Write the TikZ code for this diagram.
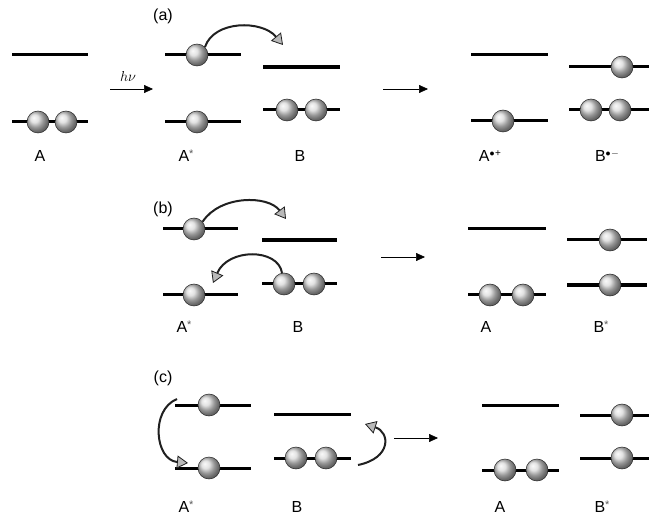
\documentclass[tikz,border=0pt]{standalone}
\usepackage{fontspec}
\setmainfont{Liberation Sans}
\usetikzlibrary{arrows.meta}
\newcommand{\sstar}{\raisebox{0.45ex}{\fontsize{11}{11}\selectfont\color{gray!70!black}*}}
\newcommand{\sdot}[1]{\raisebox{0.55ex}{\fontsize{10}{10}\selectfont$\bullet$\kern0.5pt#1}}
\begin{document}
\begin{tikzpicture}[x=1pt,y=-1pt,
  level/.style={line width=3pt,black},
  tlevel/.style={line width=3.8pt,black},
  el/.style={circle,inner sep=0pt,minimum size=22pt,ball color=gray!30,draw=gray!30!black,line width=0.5pt},
  lab/.style={font=\fontsize{16}{18}\selectfont,inner sep=0pt},
  rarrow/.style={-{Triangle[length=9pt,width=8pt]},line width=0.6pt},
  carrow/.style={-{Triangle[length=11pt,width=13pt,fill=gray!55,line width=0.8pt]},line width=2pt,draw=gray!25!black}]
\useasboundingbox (0,0) rectangle (649,516);
% ---------- (a)
\node[lab] (la) at (163,16) {(a)};
\coordinate (a1l) at (12,55); \coordinate (a1r) at (88,55);
\draw[level] (a1l) -- (a1r);
\coordinate (a2l) at (12,122); \coordinate (a2r) at (88,122);
\draw[level] (a2l) -- (a2r);
\node[el] (aA1) at (38,122) {}; \node[el] (aA2) at (66,122) {};
\node[lab] (aAl) at (40,156) {A};
\coordinate (hv1) at (110,89); \coordinate (hv2) at (153,89);
\draw[rarrow] (hv1) -- (hv2);
\node[lab,font=\fontsize{15}{16}\selectfont] (hv) at (128,77) {$h\nu$};
\coordinate (a3l) at (165,55); \coordinate (a3r) at (241,55);
\draw[level] (a3l) -- (a3r);
\coordinate (a4l) at (165,122); \coordinate (a4r) at (241,122);
\draw[level] (a4l) -- (a4r);
\node[el] (aS1) at (197,55) {}; \node[el] (aS2) at (197,122) {};
\node[lab] (aSl) at (186,156) {A\sstar};
\coordinate (a5l) at (263,67); \coordinate (a5r) at (340,67);
\draw[tlevel] (a5l) -- (a5r);
\coordinate (a6l) at (263,110); \coordinate (a6r) at (340,110);
\draw[level] (a6l) -- (a6r);
\node[el] (aB1) at (287,110) {}; \node[el] (aB2) at (316,110) {};
\node[lab] (aBl) at (300,156) {B};
\coordinate (aT) at (283,45);
\draw[carrow] (aS1.45) .. controls (214,20) and (262,20) .. (aT);
\coordinate (ar1) at (383,89); \coordinate (ar2) at (428,89);
\draw[rarrow] (ar1) -- (ar2);
\coordinate (a7l) at (471,55); \coordinate (a7r) at (548,55);
\draw[level] (a7l) -- (a7r);
\coordinate (a8l) at (471,121); \coordinate (a8r) at (548,121);
\draw[level] (a8l) -- (a8r);
\node[el] (aP1) at (503,121) {};
\node[lab] (aPl) at (490,156) {A\sdot{+}};
\coordinate (a9l) at (569,67); \coordinate (a9r) at (649,67);
\draw[level] (a9l) -- (a9r);
\coordinate (a10l) at (569,110); \coordinate (a10r) at (649,110);
\draw[level] (a10l) -- (a10r);
\node[el] (aM1) at (622,67) {};
\node[el] (aM2) at (591,110) {}; \node[el] (aM3) at (620,110) {};
\node[lab] (aMl) at (607,156) {B\sdot{$-$}};
% ---------- (b)
\node[lab] (lb) at (163,209) {(b)};
\coordinate (b1l) at (163,229); \coordinate (b1r) at (238,229);
\draw[level] (b1l) -- (b1r);
\coordinate (b2l) at (163,295); \coordinate (b2r) at (238,295);
\draw[level] (b2l) -- (b2r);
\node[el] (bS1) at (194,229) {}; \node[el] (bS2) at (194,295) {};
\node[lab] (bSl) at (184,327) {A\sstar};
\coordinate (b3l) at (262,240); \coordinate (b3r) at (337,240);
\draw[tlevel] (b3l) -- (b3r);
\coordinate (b4l) at (262,284); \coordinate (b4r) at (337,284);
\draw[level] (b4l) -- (b4r);
\node[el] (bB1) at (284,284) {}; \node[el] (bB2) at (314,284) {};
\node[lab] (bBl) at (298,327) {B};
\coordinate (bT1) at (286,219);
\draw[carrow] (bS1.40) .. controls (220,195) and (268,195) .. (bT1);
\coordinate (bT2) at (213,283);
\draw[carrow] (bB1.100) .. controls (278,248) and (228,248) .. (bT2);
\coordinate (br1) at (381,257); \coordinate (br2) at (425,257);
\draw[rarrow] (br1) -- (br2);
\coordinate (b5l) at (468,229); \coordinate (b5r) at (546,229);
\draw[level] (b5l) -- (b5r);
\coordinate (b6l) at (468,295); \coordinate (b6r) at (546,295);
\draw[level] (b6l) -- (b6r);
\node[el] (bA1) at (490,295) {}; \node[el] (bA2) at (523,295) {};
\node[lab] (bAl) at (486,327) {A};
\coordinate (b7l) at (567,240); \coordinate (b7r) at (647,240);
\draw[level] (b7l) -- (b7r);
\coordinate (b8l) at (567,285); \coordinate (b8r) at (647,285);
\draw[tlevel] (b8l) -- (b8r);
\node[el] (bQ1) at (610,240) {}; \node[el] (bQ2) at (610,285) {};
\node[lab] (bQl) at (601,327) {B\sstar};
% ---------- (c)
\node[lab] (lc) at (163,378) {(c)};
\coordinate (c1l) at (175,405); \coordinate (c1r) at (251,405);
\draw[level] (c1l) -- (c1r);
\coordinate (c2l) at (175,468); \coordinate (c2r) at (251,468);
\draw[level] (c2l) -- (c2r);
\node[el] (cS1) at (209,405) {}; \node[el] (cS2) at (209,468) {};
\node[lab] (cSl) at (186,507) {A\sstar};
\coordinate (cT1s) at (177,399); \coordinate (cT1) at (188,463);
\draw[carrow] (cT1s) .. controls (150,410) and (155,460) .. (cT1);
\coordinate (c3l) at (274,414); \coordinate (c3r) at (351,414);
\draw[level] (c3l) -- (c3r);
\coordinate (c4l) at (274,458); \coordinate (c4r) at (351,458);
\draw[level] (c4l) -- (c4r);
\node[el] (cB1) at (296,458) {}; \node[el] (cB2) at (326,458) {};
\node[lab] (cBl) at (297,507) {B};
\coordinate (cT2s) at (358,465); \coordinate (cT2) at (365,424);
\draw[carrow] (cT2s) .. controls (392,458) and (390,432) .. (cT2);
\coordinate (cr1) at (394,438); \coordinate (cr2) at (438,438);
\draw[rarrow] (cr1) -- (cr2);
\coordinate (c5l) at (482,405); \coordinate (c5r) at (559,405);
\draw[level] (c5l) -- (c5r);
\coordinate (c6l) at (482,470); \coordinate (c6r) at (559,470);
\draw[level] (c6l) -- (c6r);
\node[el] (cA1) at (505,470) {}; \node[el] (cA2) at (537,470) {};
\node[lab] (cAl) at (500,507) {A};
\coordinate (c7l) at (580,415); \coordinate (c7r) at (649,415);
\draw[level] (c7l) -- (c7r);
\coordinate (c8l) at (580,458); \coordinate (c8r) at (649,458);
\draw[level] (c8l) -- (c8r);
\node[el] (cQ1) at (622,415) {}; \node[el] (cQ2) at (622,458) {};
\node[lab] (cQl) at (602,507) {B\sstar};
\end{tikzpicture}
\end{document}
